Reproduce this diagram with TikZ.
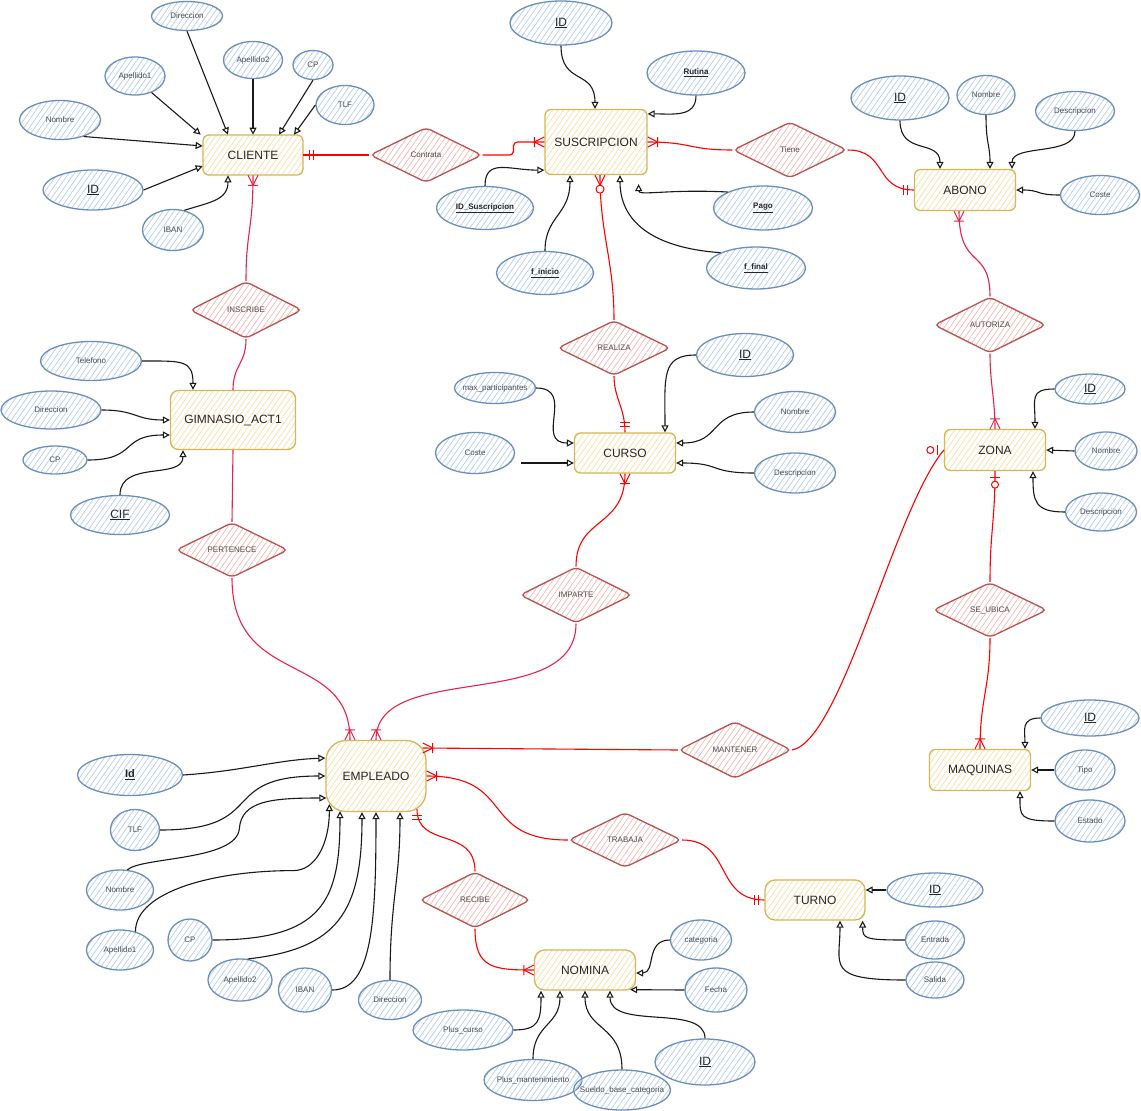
\documentclass[tikz,border=0pt]{standalone}
\usepackage{fontspec}
\setmainfont{Liberation Sans}
\usetikzlibrary{shapes.geometric,arrows.meta,patterns.meta,calc}

\definecolor{attrline}{HTML}{6C8EBF}
\definecolor{attrhatch}{HTML}{B6CDEE}
\definecolor{entline}{HTML}{D6B656}
\definecolor{enthatch}{HTML}{F6E2A4}
\definecolor{relborder}{HTML}{B85450}
\definecolor{relhatch}{HTML}{F1B8B4}
\definecolor{lnred}{HTML}{FF0000}
\definecolor{lnpink}{HTML}{E8234A}
\definecolor{txtgray}{HTML}{4D4D4D}

% zero-width box so that shapes keep their given size
\newcommand\fixw[1]{\makebox[0pt]{#1}}

\tikzset{
  sz/.style 2 args={minimum width=#1pt, minimum height=#2pt},
  hatch/.style={pattern={Lines[angle=55,distance=4.5pt,line width=0.7pt]}, pattern color=#1},
  entbox/.style={rectangle, draw=entline, line width=1.3pt, rounded corners=6pt,
    hatch=enthatch, inner sep=0pt, font=\fontsize{12}{14}\selectfont, text=black!85},
  attrell/.style={ellipse, draw=attrline, line width=1.3pt, hatch=attrhatch,
    inner sep=0pt, font=\fontsize{8}{10}\selectfont, text=txtgray},
  keyell/.style={attrell, font=\fontsize{12}{14}\selectfont, text=black!85},
  boldkey/.style={attrell, font=\fontsize{8}{10}\selectfont\bfseries, text=black!85},
  relshape/.style={diamond, draw=relborder, line width=1.3pt, rounded corners=5pt,
    hatch=relhatch, inner sep=0pt, font=\fontsize{8}{10}\selectfont, text=txtgray},
  attrarrow/.style={draw=black!90, line width=1.1pt, -{Triangle[open,length=7pt,width=7pt]}},
  redline/.style={draw=lnred, line width=1.1pt},
  pinkline/.style={draw=lnpink, line width=1.1pt},
  % cardinality marks, x axis pointing away from the entity
  mandone/.pic={\draw[line width=1pt] (6pt,-5pt) -- (6pt,5pt) (10pt,-5pt) -- (10pt,5pt);},
  onemany/.pic={\draw[line width=1pt] (0pt,-5pt) -- (10pt,0pt) -- (0pt,5pt) (10pt,-5pt) -- (10pt,5pt);},
  zeromany/.pic={\draw[line width=1pt] (0pt,-5pt) -- (10pt,0pt) -- (0pt,5pt);
                 \draw[line width=1pt, fill=white] (14pt,0pt) circle (4pt);},
  zeroone/.pic={\draw[line width=1pt] (6pt,-5pt) -- (6pt,5pt);
                \draw[line width=1pt, fill=white] (13.5pt,0pt) circle (3.5pt);},
}

\begin{document}
\begin{tikzpicture}[x=1pt, y=-1pt]
\useasboundingbox (0,0) rectangle (1141,1111);
\fill[white] (0,0) rectangle (1141,1111);

% ---------------- entities ----------------
\node[entbox, sz={100}{40}] (cli) at (253,155) {CLIENTE};
\node[entbox, sz={102}{65}] (sus) at (596,142) {SUSCRIPCION};
\node[entbox, sz={101}{41}] (abo) at (965,190) {ABONO};
\node[entbox, sz={125}{59}, rounded corners=8pt] (gim) at (233,420) {GIMNASIO\_ACT1};
\node[entbox, sz={101}{40}] (cur) at (625,453) {CURSO};
\node[entbox, sz={101}{41}] (zon) at (995,450) {ZONA};
\node[entbox, sz={101}{41}] (maq) at (980,770) {MAQUINAS};
\node[entbox, sz={100}{40}, rounded corners=10pt] (tur) at (815,900) {TURNO};
\node[entbox, sz={100}{71}, rounded corners=20pt] (emp) at (376,776) {EMPLEADO};
\node[entbox, sz={101}{40}, rounded corners=10pt] (nom) at (585,970) {NOMINA};

% ---------------- relationships ----------------
\node[relshape, sz={112}{55}] (rcon) at (426,155) {\fixw{Contrata}};
\node[relshape, sz={114}{56}] (rtie) at (790,150) {\fixw{Tiene}};
\node[relshape, sz={112}{57}] (rins) at (246,310) {\fixw{INSCRIBE}};
\node[relshape, sz={113}{55}] (rrea) at (614,348) {\fixw{REALIZA}};
\node[relshape, sz={112}{56}] (raut) at (990,325) {\fixw{AUTORIZA}};
\node[relshape, sz={112}{55}] (rper) at (232,550) {\fixw{PERTENECE}};
\node[relshape, sz={112}{56}] (rimp) at (576,595) {\fixw{IMPARTE}};
\node[relshape, sz={114}{55}] (rseu) at (990,610) {\fixw{SE\_UBICA}};
\node[relshape, sz={113}{57}] (rman) at (735,750) {\fixw{MANTENER}};
\node[relshape, sz={113}{55}] (rtra) at (625,840) {\fixw{TRABAJA}};
\node[relshape, sz={111}{56}] (rrec) at (475,900) {\fixw{RECIBE}};

% ---------------- attributes ----------------
% CLIENTE
\node[attrell, sz={71}{29}] (c-dir) at (187,16) {\fixw{Direccion}};
\node[attrell, sz={60}{38}] (c-ap1) at (135,76) {\fixw{Apellido1}};
\node[attrell, sz={59}{37}] (c-ap2) at (253,60) {\fixw{Apellido2}};
\node[attrell, sz={40}{29}] (c-cp) at (313,65) {\fixw{CP}};
\node[attrell, sz={58}{39}] (c-tlf) at (345,105) {\fixw{TLF}};
\node[attrell, sz={81}{39}] (c-nom) at (60,120) {\fixw{Nombre}};
\node[keyell, sz={100}{40}] (c-id) at (93,190) {\fixw{\underline{ID}}};
\node[attrell, sz={61}{41}] (c-iban) at (173,230) {\fixw{IBAN}};
% SUSCRIPCION
\node[keyell, sz={102}{44}] (s-id) at (561,23) {\fixw{\underline{ID}}};
\node[boldkey, sz={98}{44}] (s-rut) at (696,73) {\fixw{\underline{Rutina}}};
\node[boldkey, sz={97}{43}] (s-ids) at (485,208) {\fixw{\underline{ID\_Suscripcion}}};
\node[boldkey, sz={97}{43}] (s-fi) at (545,273) {\fixw{\underline{f\_inicio}}};
\node[boldkey, sz={99}{44}] (s-pago) at (763,208) {\fixw{\underline{Pago}}};
\node[boldkey, sz={99}{42}] (s-ff) at (756,268) {\fixw{\underline{f\_final}}};
% ABONO
\node[keyell, sz={98}{44}] (a-id) at (900,98) {\fixw{\underline{ID}}};
\node[attrell, sz={58}{39}] (a-nom) at (986,95) {\fixw{Nombre}};
\node[attrell, sz={79}{39}] (a-des) at (1075,111) {\fixw{Descripcion}};
\node[attrell, sz={79}{39}] (a-cos) at (1100,195) {\fixw{Coste}};
% GIMNASIO_ACT1
\node[attrell, sz={101}{39}] (g-tel) at (91,361) {\fixw{Telefono}};
\node[attrell, sz={100}{38}] (g-dir) at (51,410) {\fixw{Direccion}};
\node[attrell, sz={64}{28}] (g-cp) at (55,460) {\fixw{CP}};
\node[keyell, sz={99}{39}] (g-cif) at (120,515) {\fixw{\underline{CIF}}};
% CURSO
\node[attrell, sz={81}{31}] (k-max) at (495,388) {\fixw{max\_participantes}};
\node[attrell, sz={79}{41}] (k-cos) at (475,453) {\fixw{Coste}};
\node[keyell, sz={97}{43}] (k-id) at (745,355) {\fixw{\underline{ID}}};
\node[attrell, sz={81}{41}] (k-nom) at (795,412) {\fixw{Nombre}};
\node[attrell, sz={81}{40}] (k-des) at (795,473) {\fixw{Descripcion}};
% ZONA
\node[keyell, sz={70}{30}] (z-id) at (1090,389) {\fixw{\underline{ID}}};
\node[attrell, sz={62}{38}] (z-nom) at (1106,451) {\fixw{Nombre}};
\node[attrell, sz={71}{38}] (z-des) at (1101,512) {\fixw{Descripcion}};
% MAQUINAS
\node[keyell, sz={98}{36}] (m-id) at (1090,718) {\fixw{\underline{ID}}};
\node[attrell, sz={60}{40}] (m-tip) at (1085,770) {\fixw{Tipo}};
\node[attrell, sz={70}{42}] (m-est) at (1090,821) {\fixw{Estado}};
% TURNO
\node[keyell, sz={96}{34}] (t-id) at (935,890) {\fixw{\underline{ID}}};
\node[attrell, sz={59}{38}] (t-ent) at (935,940) {\fixw{Entrada}};
\node[attrell, sz={58}{36}] (t-sal) at (935,980) {\fixw{Salida}};
% EMPLEADO
\node[boldkey, sz={105}{41}, font=\fontsize{11}{13}\selectfont\bfseries] (e-id) at (130,775) {\fixw{\underline{Id}}};
\node[attrell, sz={49}{41}] (e-tlf) at (135,830) {\fixw{TLF}};
\node[attrell, sz={67}{40}] (e-nom) at (120,890) {\fixw{Nombre}};
\node[attrell, sz={67}{40}] (e-ap1) at (120,950) {\fixw{Apellido1}};
\node[attrell, sz={44}{42}] (e-cp) at (190,940) {\fixw{CP}};
\node[attrell, sz={64}{42}] (e-ap2) at (240,980) {\fixw{Apellido2}};
\node[attrell, sz={53}{44}] (e-iban) at (305,990) {\fixw{IBAN}};
\node[attrell, sz={63}{39}] (e-dir) at (390,1000) {\fixw{Direccion}};
% NOMINA
\node[attrell, sz={61}{40}] (n-cat) at (701,940) {\fixw{categoria}};
\node[attrell, sz={62}{44}] (n-fec) at (716,990) {\fixw{Fecha}};
\node[attrell, sz={100}{40}] (n-pc) at (463,1030) {\fixw{Plus\_curso}};
\node[attrell, sz={98}{41}] (n-pm) at (533,1080) {\fixw{Plus\_mantenimiento}};
\node[attrell, sz={97}{40}] (n-sb) at (622,1090) {\fixw{Sueldo\_base\_categoria}};
\node[keyell, sz={100}{46}] (n-id) at (705,1062) {\fixw{\underline{ID}}};

% ---------------- attribute links ----------------
\draw[attrarrow] (c-dir.south) -- ([xshift=-25pt]cli.north);
\draw[attrarrow] (c-ap1.-45) -- ([xshift=-2pt]cli.north west);
\draw[attrarrow] (c-ap2.south) -- (cli.north);
\draw[attrarrow] (c-cp.south) -- ([xshift=26pt]cli.north);
\draw[attrarrow] (c-tlf.west) -- ([xshift=41pt]cli.north);
\draw[attrarrow] (c-nom.-35) -- ([yshift=9pt]cli.west);
\draw[attrarrow] (c-id.east) -- ([yshift=-11pt]cli.west);
\draw[attrarrow] (c-iban.60) .. controls +(25,-8) and +(0,25) .. ([xshift=-25pt]cli.south);

\draw[attrarrow] (s-id.south) .. controls +(0,40) and +(0,-40) .. ([xshift=-1pt]sus.north);
\draw[attrarrow] (s-rut.south) .. controls +(0,22) and +(25,0) .. ([yshift=-5pt]sus.north east);
\draw[attrarrow] (s-ids.north) .. controls +(0,-28) and +(-35,0) .. ([yshift=5pt]sus.south west);
\draw[attrarrow] (s-fi.north) .. controls +(0,-35) and +(0,40) .. ([xshift=-26pt]sus.south);
\draw[attrarrow] (s-pago.north west) .. controls +(-60,-3) and +(0,12) .. ([xshift=-9pt,yshift=-9pt]sus.south east);
\draw[attrarrow] (s-ff.north west) .. controls +(-70,-5) and +(0,45) .. ([xshift=24pt]sus.south);

\draw[attrarrow] (a-id.south) .. controls +(0,35) and +(0,-30) .. ([xshift=-25pt]abo.north);
\draw[attrarrow] (a-nom.south) .. controls +(0,30) and +(0,-25) .. ([xshift=25pt]abo.north);
\draw[attrarrow] (a-des.south) .. controls +(0,25) and +(0,-25) .. ([xshift=47pt]abo.north);
\draw[attrarrow] (a-cos.west) .. controls +(-25,0) and +(25,0) .. (abo.east);

\draw[attrarrow] (g-tel.east) .. controls +(40,0) and +(0,-30) .. ([xshift=-40pt]gim.north);
\draw[attrarrow] (g-dir.east) .. controls +(35,0) and +(-35,0) .. (gim.west);
\draw[attrarrow] (g-cp.east) .. controls +(50,0) and +(-50,0) .. ([yshift=-15pt]gim.west);
\draw[attrarrow] (g-cif.north) .. controls +(0,-35) and +(0,30) .. ([xshift=-50pt]gim.south);

\draw[attrarrow] (k-max.east) .. controls +(40,0) and +(-40,0) .. ([yshift=10pt]cur.west);
\draw[attrarrow] ([xshift=6pt,yshift=-10pt]k-cos.east) -- ([yshift=-10pt]cur.west);
\draw[attrarrow] (k-id.west) .. controls +(-35,0) and +(0,-55) .. ([xshift=40pt]cur.north);
\draw[attrarrow] (k-nom.west) .. controls +(-45,0) and +(45,0) .. ([yshift=10pt]cur.east);
\draw[attrarrow] (k-des.west) .. controls +(-45,0) and +(45,0) .. ([yshift=-10pt]cur.east);

\draw[attrarrow] (z-id.west) .. controls +(-25,0) and +(0,-30) .. ([xshift=40pt]zon.north);
\draw[attrarrow] (z-nom.west) -- (zon.east);
\draw[attrarrow] (z-des.west) .. controls +(-30,0) and +(0,30) .. ([xshift=38pt]zon.south);

\draw[attrarrow] (m-id.west) .. controls +(-20,0) and +(0,-18) .. ([xshift=45pt]maq.north);
\draw[attrarrow] (m-tip.west) -- (maq.east);
\draw[attrarrow] (m-est.west) .. controls +(-35,0) and +(0,25) .. ([xshift=40pt]maq.south);

\draw[attrarrow] (t-id.west) -- ([yshift=10pt]tur.east);
\draw[attrarrow] (t-ent.west) .. controls +(-40,0) and +(0,18) .. ([xshift=-3pt]tur.south east);
\draw[attrarrow] (t-sal.west) .. controls +(-80,0) and +(0,45) .. ([xshift=25pt]tur.south);

\draw[attrarrow] (e-id.east) .. controls +(60,-4) and +(-50,2) .. ([yshift=18pt]emp.west);
\draw[attrarrow] (e-tlf.east) .. controls +(110,0) and +(-110,0) .. (emp.west);
\draw[attrarrow] (e-nom.70) .. controls +(14,-13) and +(-3,32) .. ++(112,-41)
                 .. controls +(2,-28) and +(-55,0) .. ([xshift=1pt,yshift=-22pt]emp.west);
\draw[attrarrow] (e-ap1.50) .. controls +(0,-40) and +(-80,0) .. ++(158,-61)
                 .. controls +(22,0) and +(0,40) .. ([xshift=4pt,yshift=-28pt]emp.west);
\draw[attrarrow] (e-cp.east) .. controls +(110,0) and +(0,90) .. ([xshift=-36pt,yshift=1pt]emp.south);
\draw[attrarrow] (e-ap2.70) .. controls +(90,-10) and +(0,100) .. ([xshift=-14pt]emp.south);
\draw[attrarrow] (e-iban.east) .. controls +(40,0) and +(0,110) .. (emp.south);
\draw[attrarrow] (e-dir.north) .. controls +(0,-80) and +(0,70) .. ([xshift=24pt]emp.south);

\draw[attrarrow] (n-cat.west) .. controls +(-25,0) and +(20,0) .. ([yshift=-3pt]nom.east);
\draw[attrarrow] (n-fec.west) -- ([xshift=-6pt,yshift=1pt]nom.south east);
\draw[attrarrow] (n-pc.east) .. controls +(25,0) and +(0,30) .. ([xshift=-44pt]nom.south);
\draw[attrarrow] (n-pm.north) .. controls +(0,-35) and +(0,35) .. ([xshift=-25pt]nom.south);
\draw[attrarrow] (n-sb.north) .. controls +(0,-45) and +(0,40) .. (nom.south);
\draw[attrarrow] (n-id.north) .. controls +(0,-35) and +(0,40) .. ([xshift=25pt]nom.south);

% ---------------- relationship links ----------------
\draw[redline] (rcon.west) -- (cli.east);
\pic[lnred] at (cli.east) {mandone};
\draw[redline, rounded corners=4pt] (rcon.east) -| ($(rcon.east)!0.5!(sus.west)$) |- (sus.west);
\pic[lnred, rotate=180] at (sus.west) {onemany};
\draw[redline] (sus.east) .. controls +(45,0) and +(-45,0) .. (rtie.west);
\pic[lnred] at (sus.east) {onemany};
\draw[redline] (rtie.east) .. controls +(40,0) and +(-40,0) .. (abo.west);
\pic[lnred, rotate=180] at (abo.west) {mandone};

\draw[pinkline] (cli.south) .. controls +(0,55) and +(0,-50) .. (rins.north);
\pic[lnpink, rotate=-90] at (cli.south) {onemany};
\draw[pinkline] (rins.south) .. controls +(0,25) and +(0,-25) .. (gim.north);
\draw[pinkline] (gim.south) -- (rper.north);
\draw[pinkline] (rper.south) .. controls +(0,110) and +(0,-90) .. ([xshift=-26pt]emp.north);
\pic[lnpink, rotate=90] at ([xshift=-26pt]emp.north) {onemany};

\draw[redline] ([xshift=4pt]sus.south) .. controls +(0,60) and +(0,-60) .. (rrea.north);
\pic[lnred, rotate=-90] at ([xshift=4pt]sus.south) {zeromany};
\draw[redline] (rrea.south) .. controls +(0,22) and +(0,-25) .. (cur.north);
\pic[lnred, rotate=90] at (cur.north) {mandone};
\draw[redline] (cur.south) .. controls +(0,55) and +(0,-50) .. (rimp.north);
\pic[lnred, rotate=-90] at (cur.south) {onemany};
\draw[pinkline] (rimp.south) .. controls +(0,90) and +(0,-80) .. (emp.north);
\pic[lnpink, rotate=90] at (emp.north) {onemany};

\draw[pinkline] ([xshift=-6pt]abo.south) .. controls +(0,60) and +(0,-50) .. (raut.north);
\pic[lnpink, rotate=-90] at ([xshift=-6pt]abo.south) {onemany};
\draw[pinkline] (raut.south) .. controls +(0,30) and +(0,-30) .. (zon.north);
\pic[lnpink, rotate=90] at (zon.north) {onemany};

\draw[redline] (zon.south) .. controls +(0,50) and +(0,-50) .. (rseu.north);
\pic[lnred, rotate=-90] at (zon.south) {zeroone};
\draw[redline] (rseu.south) .. controls +(0,50) and +(0,-50) .. (maq.north);
\pic[lnred, rotate=90] at (maq.north) {onemany};

\draw[redline] (rman.east) .. controls +(50,-10) and +(-50,60) .. (zon.west);
\pic[lnred, rotate=180] at (zon.west) {zeroone};
\draw[redline] (rman.west) -- ([xshift=-4pt,yshift=28pt]emp.east);
\pic[lnred] at ([xshift=-4pt,yshift=28pt]emp.east) {onemany};

\draw[redline] (rtra.west) .. controls +(-90,0) and +(90,0) .. (emp.east);
\pic[lnred] at (emp.east) {onemany};
\draw[redline] (rtra.east) .. controls +(50,0) and +(-50,0) .. (tur.west);
\pic[lnred, rotate=180] at (tur.west) {mandone};

\draw[redline] (rrec.north) .. controls +(0,-45) and +(0,40) .. ([xshift=41pt,yshift=3pt]emp.south);
\pic[lnred, rotate=-90] at ([xshift=41pt,yshift=3pt]emp.south) {mandone};
\draw[redline] (rrec.south) .. controls +(0,40) and +(-40,0) .. (nom.west);
\pic[lnred, rotate=180] at (nom.west) {onemany};
\end{tikzpicture}
\end{document}
